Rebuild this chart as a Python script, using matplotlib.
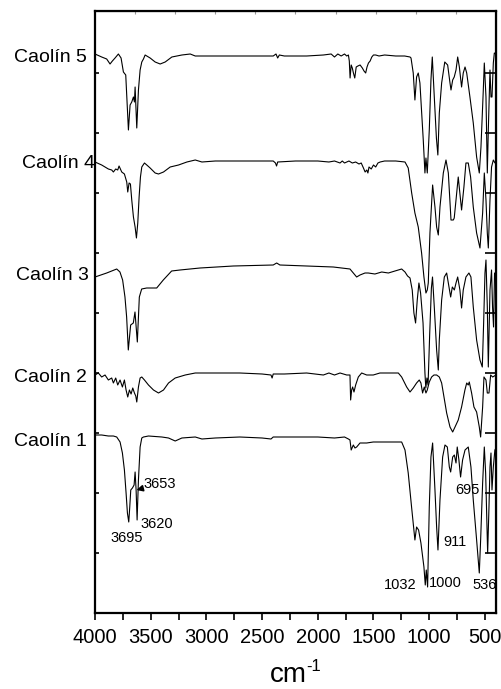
import numpy as np
import matplotlib
matplotlib.use('Agg')
import matplotlib.pyplot as plt

plt.rcParams['font.family'] = ['Liberation Sans', 'DejaVu Sans']

# spectra: (wavenumber cm-1, stacked transmittance, arb. units)
caolin5 = [(4000, 559), (3940, 556), (3895, 554), (3865, 549), (3844, 552), (3820, 555), (3790, 559),
           (3766, 555), (3745, 541), (3724, 538), (3700, 483), (3685, 508), (3670, 511), (3655, 516),
           (3646, 511), (3640, 526), (3625, 485), (3610, 523), (3595, 543), (3580, 551), (3565, 554),
           (3550, 558), (3505, 555), (3460, 551), (3415, 549), (3370, 551), (3310, 556), (3220, 558),
           (3145, 559), (3100, 557), (2920, 557), (2700, 557), (2500, 557), (2400, 557), (2375, 559),
           (2360, 555), (2345, 558), (2300, 557), (2100, 557), (1950, 558), (1880, 559), (1850, 556),
           (1820, 559), (1790, 557), (1760, 559), (1740, 557), (1725, 558), (1717, 552), (1710, 535),
           (1700, 548), (1690, 545), (1680, 540), (1668, 535), (1655, 546), (1640, 547), (1620, 548),
           (1600, 545), (1585, 542), (1570, 540), (1558, 546), (1545, 550), (1530, 552), (1515, 556),
           (1500, 558), (1480, 558), (1450, 557), (1400, 558), (1300, 557), (1220, 557), (1172, 556),
           (1163, 555), (1143, 540), (1128, 513), (1113, 536), (1098, 540), (1083, 530), (1053, 473),
           (1038, 440), (1029, 455), (1017, 440), (999, 483), (984, 533), (972, 556), (954, 516),
           (935, 475), (922, 458), (909, 500), (888, 530), (860, 551), (834, 548), (813, 530),
           (804, 523), (789, 533), (775, 536), (759, 543), (744, 556), (729, 546), (709, 526),
           (694, 540), (678, 546), (663, 540), (634, 516), (604, 490), (574, 456), (550, 440),
           (535, 466), (514, 523), (505, 550), (490, 516), (478, 440), (469, 483), (454, 543),
           (445, 516), (436, 516), (424, 550), (415, 560), (400, 559)]

caolin4 = [(4000, 451), (3940, 448), (3880, 444), (3850, 443), (3835, 441), (3814, 444), (3796, 443),
           (3784, 447), (3760, 441), (3736, 439), (3715, 431), (3706, 421), (3694, 430), (3682, 429),
           (3670, 413), (3655, 396), (3640, 386), (3628, 375), (3616, 390), (3604, 416), (3592, 436),
           (3580, 446), (3556, 450), (3535, 448), (3505, 445), (3460, 440), (3430, 439), (3385, 441),
           (3325, 446), (3250, 448), (3175, 451), (3100, 453), (3040, 451), (2920, 452), (2700, 452),
           (2500, 452), (2400, 452), (2380, 450), (2370, 447), (2360, 451), (2200, 452), (2000, 452),
           (1900, 451), (1850, 452), (1800, 450), (1780, 452), (1760, 450), (1720, 452), (1690, 450),
           (1660, 451), (1630, 449), (1610, 450), (1590, 445), (1575, 441), (1560, 443), (1550, 440),
           (1540, 446), (1520, 444), (1500, 448), (1480, 446), (1460, 450), (1440, 451), (1400, 452),
           (1300, 452), (1217, 451), (1188, 445), (1157, 420), (1128, 400), (1098, 386), (1068, 360),
           (1047, 336), (1029, 320), (1017, 323), (1008, 330), (993, 380), (969, 428), (948, 406),
           (933, 386), (918, 378), (903, 406), (873, 440), (849, 453), (828, 440), (804, 393),
           (783, 393), (775, 395), (759, 413), (739, 436), (730, 426), (709, 403), (688, 426),
           (670, 450), (649, 450), (628, 436), (604, 406), (574, 380), (544, 365), (520, 400),
           (505, 440), (490, 413), (478, 380), (469, 365), (454, 413), (440, 446), (424, 453),
           (409, 450), (400, 451)]

caolin3 = [(4000, 336), (3895, 340), (3805, 344), (3776, 341), (3752, 333), (3731, 316), (3716, 296),
           (3701, 263), (3680, 288), (3656, 290), (3641, 301), (3620, 271), (3602, 316), (3581, 324),
           (3536, 325), (3446, 325), (3387, 333), (3312, 342), (3237, 343), (3057, 345), (2758, 347),
           (2400, 348), (2369, 350), (2340, 348), (2100, 347), (1861, 346), (1711, 344), (1681, 340),
           (1651, 336), (1621, 338), (1576, 340), (1547, 340), (1487, 339), (1426, 341), (1366, 340),
           (1307, 342), (1247, 344), (1217, 341), (1194, 337), (1172, 335), (1152, 323), (1137, 300),
           (1122, 290), (1107, 313), (1092, 330), (1077, 320), (1055, 290), (1038, 240), (1030, 225),
           (1020, 235), (1010, 228), (995, 280), (980, 325), (970, 336), (954, 306), (933, 263),
           (918, 243), (909, 273), (888, 313), (864, 336), (843, 340), (828, 330), (807, 316),
           (792, 326), (774, 323), (759, 330), (744, 336), (724, 323), (709, 305), (694, 323),
           (670, 336), (643, 340), (625, 336), (604, 306), (574, 273), (544, 253), (523, 246),
           (511, 290), (499, 340), (490, 353), (478, 306), (469, 246), (454, 323), (440, 343),
           (431, 306), (422, 286), (413, 340), (400, 336)]

caolin2 = [(4000, 238), (3970, 240), (3940, 236), (3910, 238), (3880, 233), (3850, 235), (3835, 230),
           (3814, 235), (3796, 228), (3775, 233), (3754, 226), (3736, 233), (3721, 223), (3706, 216),
           (3691, 223), (3676, 219), (3661, 225), (3646, 220), (3634, 217), (3625, 211), (3610, 226),
           (3595, 235), (3580, 236), (3556, 233), (3520, 228), (3475, 223), (3430, 220), (3385, 223),
           (3340, 230), (3280, 235), (3190, 238), (3100, 240), (2920, 240), (2700, 240), (2500, 239),
           (2420, 238), (2410, 235), (2400, 239), (2300, 239), (2100, 240), (1950, 238), (1900, 240),
           (1850, 238), (1800, 240), (1740, 238), (1711, 238), (1705, 213), (1696, 223), (1687, 226),
           (1675, 221), (1660, 228), (1636, 236), (1606, 240), (1561, 238), (1502, 238), (1442, 240),
           (1382, 240), (1277, 240), (1247, 236), (1202, 226), (1172, 221), (1143, 225), (1113, 230),
           (1089, 233), (1074, 230), (1059, 220), (1044, 226), (1029, 220), (1017, 223), (999, 231),
           (978, 236), (957, 238), (933, 238), (909, 236), (888, 230), (867, 216), (843, 200),
           (813, 186), (789, 181), (768, 186), (739, 193), (709, 206), (679, 223), (663, 230),
           (649, 228), (640, 231), (619, 220), (598, 206), (574, 201), (550, 186), (538, 176),
           (520, 206), (508, 236), (490, 233), (478, 220), (463, 220), (448, 238), (430, 236),
           (400, 238)]

caolin1 = [(4000, 178), (3940, 178), (3880, 177), (3835, 177), (3805, 176), (3775, 171), (3754, 160),
           (3736, 143), (3721, 120), (3709, 100), (3697, 91), (3688, 106), (3679, 123), (3664, 125),
           (3649, 128), (3640, 141), (3631, 123), (3622, 93), (3610, 133), (3595, 166), (3580, 175),
           (3565, 176), (3520, 177), (3400, 176), (3340, 175), (3280, 172), (3220, 175), (3100, 176),
           (3040, 174), (2920, 175), (2700, 176), (2500, 175), (2420, 174), (2400, 176), (2200, 176),
           (2000, 176), (1850, 175), (1760, 176), (1725, 174), (1711, 173), (1700, 163), (1681, 168),
           (1666, 165), (1651, 166), (1621, 170), (1561, 170), (1502, 171), (1382, 171), (1247, 171),
           (1217, 163), (1188, 140), (1158, 106), (1128, 73), (1113, 86), (1095, 83), (1074, 70),
           (1047, 46), (1035, 28), (1026, 43), (1014, 26), (999, 106), (984, 156), (969, 170),
           (948, 123), (933, 86), (921, 63), (903, 113), (879, 156), (858, 168), (837, 166),
           (819, 146), (807, 141), (789, 156), (774, 158), (759, 150), (748, 166), (733, 153),
           (718, 136), (700, 153), (678, 163), (649, 166), (625, 146), (604, 113), (574, 73),
           (550, 40), (538, 73), (520, 130), (505, 166), (493, 140), (484, 100), (475, 60),
           (463, 106), (454, 146), (445, 160), (436, 123), (424, 146), (410, 163), (400, 165)]

nombres = ['Caolín 5', 'Caolín 4', 'Caolín 3', 'Caolín 2', 'Caolín 1']

# band labels: text, wavenumber, value
bandas = [('3695', 3865, 75), ('3620', 3590, 89), ('911', 876, 71),
          ('1032', 1406, 28), ('1000', 1002, 30), ('536', 607, 28), ('695', 768, 123)]

fig = plt.figure(figsize=(5.02, 6.89), dpi=100)
ax = fig.add_axes([95/502, 1 - 613/689, 401/502, 602/689])

for esp in [caolin5, caolin4, caolin3, caolin2, caolin1]:
    d = np.array(esp, dtype=float)
    ax.plot(d[:, 0], d[:, 1], color='black', lw=0.8)

ax.set_xlim(4000, 400)
ax.set_ylim(0, 602)
ax.set_xticks(np.arange(4000, 400, -500))
ax.set_xticks(np.arange(3750, 400, -500), minor=True)
ax.tick_params(axis='x', which='both', direction='out', length=5, width=1.2,
               labelsize=14.5, pad=6)
ax.set_yticks(np.arange(60, 600, 60))
ax.tick_params(axis='y', which='major', direction='in', length=3, width=1.2,
               labelleft=False)
for s in ax.spines.values():
    s.set_linewidth(1.6)

# right and top ticks
sec_y = ax.secondary_yaxis('right')
sec_y.set_yticks(np.arange(60, 600, 60))
sec_y.tick_params(direction='in', length=8, width=1.2, labelright=False)
sec_x = ax.secondary_xaxis('top')
sec_x.set_xticks(np.arange(3640, 400, -360))
sec_x.tick_params(direction='in', length=2, width=0.8, color='#999999', labeltop=False)

# axis title cm-1
fig.text(288/502, 1 - 682/689, 'cm', ha='center', va='baseline', fontsize=20)
fig.text(306/502, 1 - 659/689, '-1', ha='left', va='top', fontsize=12)

# sample names
posiciones = [(87, 58), (95, 163), (89, 275), (87, 378), (87, 441)]
for nom, (px, py) in zip(nombres, posiciones):
    fig.text(px/502, 1 - py/689, nom, ha='right', va='center', fontsize=14)

for txt, w, v in bandas:
    ax.text(w, v, txt, ha='left', va='center', fontsize=10.5)

ax.annotate('3653', xy=(3628, 123), xytext=(3569, 129), ha='left', va='center',
            fontsize=10.5,
            arrowprops=dict(arrowstyle='-|>', color='black', lw=1.2,
                            mutation_scale=9, shrinkA=0, shrinkB=0))

fig.savefig('out.png', dpi=100)
